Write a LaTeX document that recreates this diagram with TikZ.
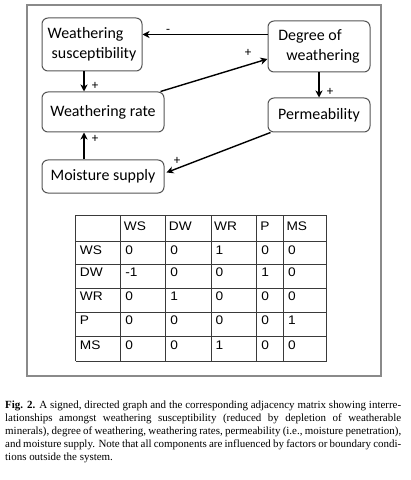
\documentclass[tikz,border=0pt]{standalone}
\usepackage{fontspec}
\usetikzlibrary{arrows.meta,calc}
\newfontfamily\nodefont{Carlito}
\newfontfamily\tabfont[FakeStretch=1.1]{Liberation Sans}
\newfontfamily\capfont{Liberation Serif}
\definecolor{boxgray}{HTML}{8A8A8A}
\definecolor{nodegray}{HTML}{555555}
\definecolor{tabline}{HTML}{3A3A3A}
\begin{document}
\begin{tikzpicture}[x=1bp,y=-1bp,
  box/.style={draw=nodegray, line width=1bp, rounded corners=6bp, fill=white, inner sep=0pt,
    font=\nodefont\fontsize{16}{20}\selectfont},
  arr/.style={-{Stealth[length=7bp,width=7bp,inset=2bp]}, line width=1.4bp, black},
  sign/.style={inner sep=0pt, font=\nodefont\fontsize{13}{15}\selectfont},
  tab/.style={draw=tabline, line width=1bp},
  cell/.style={anchor=base west, inner sep=0pt, font=\tabfont\fontsize{12.5}{14}\selectfont},
]
\useasboundingbox (0,0) rectangle (410,480);
\draw[boxgray, line width=1.1bp] (27,5) rectangle (381,376);

% nodes
\node[box, minimum width=100bp, minimum height=53bp, align=left] (ws) at (92,44.5) {Weathering\\\hspace*{4bp}susceptibility};
\node[box, minimum width=122bp, minimum height=40bp] (wr) at (103,112) {Weathering rate};
\node[box, minimum width=122bp, minimum height=33bp] (ms) at (103,176.5) {Moisture supply};
\node[box, minimum width=102bp, minimum height=51bp, align=left] (dw) at (319,46.5) {Degree of\\\hspace*{8bp}weathering};
\node[box, minimum width=102bp, minimum height=34bp] (p) at (319,115) {Permeability};

% connectors
\draw[arr] ([yshift=12bp]dw.west) -- ([yshift=12bp]dw.west -| ws.east);
\draw[arr] ([xshift=-4bp]wr.north east) -- ([yshift=-12.5bp]dw.west);
\draw[arr] ([xshift=-8bp]ws.south) -- ([xshift=-8bp]ws.south |- wr.north);
\draw[arr] ([xshift=-19bp]ms.north) -- ([xshift=-19bp]ms.north |- wr.south);
\draw[arr] (dw.south) -- (p.north);
\draw[arr] ([xshift=3bp]p.south west) -- ([xshift=2bp,yshift=4bp]ms.east);

% signs
\node[sign] (s1) at (168,31) {-};
\node[sign] (s2) at (248,53) {+};
\node[sign] (s3) at (95,86) {+};
\node[sign] (s4) at (330,92) {+};
\node[sign] (s5) at (95,139) {+};
\node[sign] (s6) at (177,161) {+};

% table
\foreach \x in {75.7,120.7,165.7,211,256.7,283.3,326.7} \draw[tab] (\x,215) -- (\x,361);
\foreach \y in {215,241.7,264.3,288.3,312.3,336.7,361} \draw[tab] (75.7,\y) -- (326.7,\y);
\foreach \lab/\x [count=\i] in {WS/123.7, DW/168.7, WR/214, P/260.2, MS/286.3}
  \node[cell] (col\i) at (\x,230) {\lab};
\foreach \lab/\yb/\a/\b/\c/\d/\e [count=\r] in {WS/254.2/0/0/1/0/0, DW/276.8/-1/0/0/1/0, WR/300.8/0/1/0/0/0, P/324.8/0/0/0/0/1, MS/349.2/0/0/1/0/0} {
  \node[cell] (row\r) at (79.7,\yb) {\lab};
  \node[cell] (v\r a) at (125.2,\yb) {\a};
  \node[cell] (v\r b) at (170.2,\yb) {\b};
  \node[cell] (v\r c) at (215.5,\yb) {\c};
  \node[cell] (v\r d) at (261.2,\yb) {\d};
  \node[cell] (v\r e) at (287.8,\yb) {\e};
}

% caption
\node[anchor=north west, inner sep=0pt, font=\capfont\fontsize{11}{13.1}\selectfont] (cap) at (5,400.5) {\vbox{\hsize=396bp \baselineskip=13.1bp
\hbox to\hsize{\textbf{Fig. 2.} A signed, directed graph and the corresponding adjacency matrix showing interre-}
\hbox to\hsize{lationships amongst weathering susceptibility (reduced by depletion of weatherable}
\hbox to\hsize{minerals), degree of weathering, weathering rates, permeability (i.e., moisture penetration),}
\hbox to\hsize{and moisture supply. Note that all components are influenced by factors or boundary condi-}
\hbox{tions outside the system.}}};
\end{tikzpicture}
\end{document}
